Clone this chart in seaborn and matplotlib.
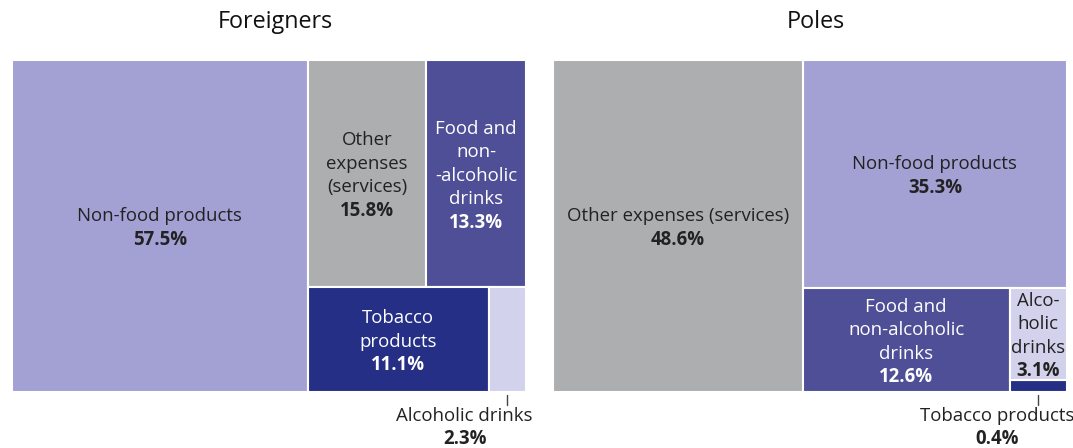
import matplotlib
matplotlib.use("Agg")
import matplotlib.pyplot as plt
from matplotlib.patches import Rectangle
import seaborn as sns

sns.set_style("white")
plt.rcParams['font.family'] = ['Open Sans', 'DejaVu Sans']

# ---------------- data ----------------
panel_titles = ["Foreigners", "Poles"]
categories = ["Non-food products", "Other expenses (services)",
              "Food and non-alcoholic drinks", "Tobacco products", "Alcoholic drinks"]
foreigners_values = [57.5, 15.8, 13.3, 11.1, 2.3]
poles_values = [35.3, 48.6, 12.6, 0.4, 3.1]
foreigners_names = ["Non-food products", "Other\nexpenses\n(services)",
                    "Food and\nnon-\n-alcoholic\ndrinks", "Tobacco\nproducts", "Alcoholic drinks"]
poles_names = ["Non-food products", "Other expenses (services)",
               "Food and\nnon-alcoholic\ndrinks", "Tobacco products", "Alco-\nholic\ndrinks"]
category_colors = ["#a3a0d4", "#adaeb0", "#4f4f97", "#262f86", "#d2d2ec"]
text_colors = ["#222222", "#222222", "#ffffff", "#ffffff", "#222222"]

W, H = 514.0, 332.0
RATIO = 1.3


def squarify(values, x0, y0, x1, y1, ratio=RATIO):
    order = sorted(range(len(values)), key=lambda i: -values[i])
    v = [values[i] for i in order]
    n = len(v)
    value = float(sum(v))
    rects = {}
    i0 = 0
    while i0 < n:
        dx, dy = x1 - x0, y1 - y0
        i1 = i0
        sumv = v[i1]
        i1 += 1
        minv = maxv = sumv
        alpha = max(dy / dx, dx / dy) / (value * ratio)
        beta = sumv * sumv * alpha
        min_ratio = max(maxv / beta, beta / minv)
        while i1 < n:
            nv = v[i1]
            s = sumv + nv
            mn, mx = min(minv, nv), max(maxv, nv)
            beta = s * s * alpha
            nr = max(mx / beta, beta / mn)
            if nr > min_ratio:
                break
            sumv, minv, maxv, min_ratio = s, mn, mx, nr
            i1 += 1
        row = list(range(i0, i1))
        if dx < dy:
            h = dy * sumv / value
            xx = x0
            for k in row:
                w = dx * v[k] / sumv
                rects[order[k]] = (xx, y0, w, h)
                xx += w
            y0 += h
        else:
            w = dx * sumv / value
            yy = y0
            for k in row:
                h = dy * v[k] / sumv
                rects[order[k]] = (x0, yy, w, h)
                yy += h
            x0 += w
        value -= sumv
        i0 = i1
    return rects


fig = plt.figure(figsize=(10.73, 4.48), dpi=100)
fig.patch.set_facecolor("white")
axes_lefts = [12, 553]
LS = 23.5
FS = 13.4

for p, (title, vals, names) in enumerate(zip(panel_titles,
                                              [foreigners_values, poles_values],
                                              [foreigners_names, poles_names])):
    ax = fig.add_axes([axes_lefts[p] / 1073, 56 / 448, W / 1073, H / 448])
    ax.set_xlim(0, W)
    ax.set_ylim(H, 0)
    ax.axis("off")
    fig.text((axes_lefts[p] + W / 2 + 6) / 1073, 1 - 22 / 448, title,
             ha="center", va="center", fontsize=16.8, color="#111111")
    rects = squarify(vals, 0, 0, W, H)
    for i in range(len(vals)):
        x, y, w, h = rects[i]
        ax.add_patch(Rectangle((x, y), w, h, facecolor=category_colors[i],
                               edgecolor="white", linewidth=1.5))
        val_txt = f"{vals[i]:.1f}%"
        cx, cy = x + w / 2, y + h / 2
        if w < 45 or h < 40:
            ax.plot([cx, cx], [y + h + 3, y + h + 13], color="#444444",
                    lw=1, clip_on=False)
            t = ax.text(x + w + 7, y + h + 24, names[i], ha="right", va="center",
                        fontsize=FS, color="#222222", clip_on=False)
            ax.annotate(val_txt, xy=(0.5, 0), xycoords=t, xytext=(0, -3),
                        textcoords="offset points", ha="center", va="top",
                        fontsize=FS, fontweight="bold", color="#222222",
                        annotation_clip=False)
        else:
            lines = names[i].split("\n") + [val_txt]
            nl = len(lines)
            for j, line in enumerate(lines):
                yy = cy + 2 + (j - (nl - 1) / 2) * LS
                ax.text(cx, yy, line, ha="center", va="center", fontsize=FS,
                        color=text_colors[i],
                        fontweight="bold" if j == nl - 1 else "normal")

fig.savefig("out.png", dpi=100, facecolor="white")
